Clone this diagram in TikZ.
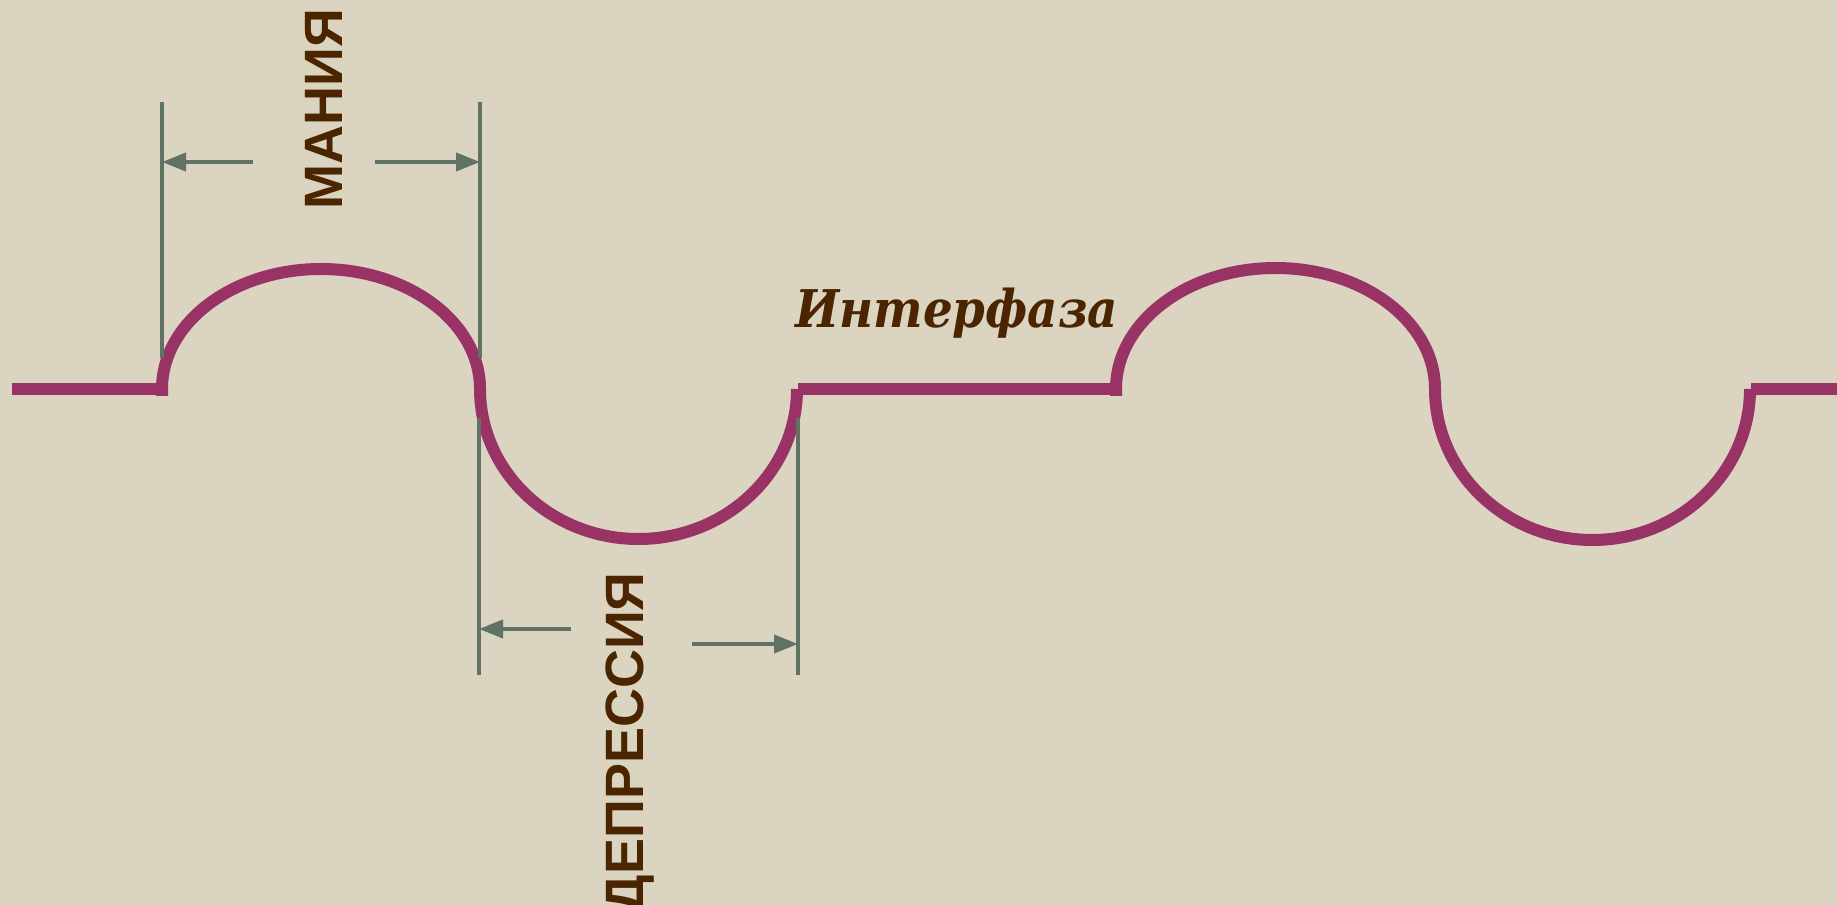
\documentclass[tikz,border=0pt]{standalone}
\usepackage{fontspec}
\setmainfont{Liberation Serif}
\setsansfont{Liberation Sans}
\newfontfamily\fonteinter{DejaVu Serif Condensed}
\usetikzlibrary{arrows.meta}
\definecolor{fond}{HTML}{DBD4C0}
\definecolor{courbe}{HTML}{993366}
\definecolor{cote}{HTML}{5F7263}
\definecolor{brun}{HTML}{4A2500}

\begin{document}
\begin{tikzpicture}[x=1pt,y=1pt,
        courbe/.style={line width=12pt, draw=courbe},
        cote/.style={line width=4pt, draw=cote},
        fleche/.style={cote, -{Triangle[length=24pt,width=18pt]}},
        phase/.style={text=brun, inner sep=0pt, rotate=90,
            font=\sffamily\bfseries\fontsize{54}{54}\selectfont}]
        % Fond
        \fill[fond] (0,0) rectangle (1837,905);
        \useasboundingbox (0,0) rectangle (1837,905);
        % Courbe de l'humeur
        \draw[courbe] (12,516) -- (162,516);
        \draw[courbe] (162,509) -- (162,516) arc[start angle=180, end angle=0, x radius=159, y radius=120];
        \draw[courbe] (480,516) arc[start angle=180, end angle=360, x radius=158.5, y radius=150];
        \draw[courbe] (798,516) -- (1116,516);
        \draw[courbe] (1116,509) -- (1116,516) arc[start angle=180, end angle=0, x radius=159.5, y radius=121];
        \draw[courbe] (1435,516) arc[start angle=180, end angle=360, x radius=157.5, y radius=151];
        \draw[courbe] (1751,516) -- (1837,516);
        % Cotes de la manie
        \coordinate (maniaG) at (162,803);
        \coordinate (maniaD) at (480,803);
        \draw[cote] (maniaG) -- (162,547);
        \draw[cote] (maniaD) -- (480,547);
        \coordinate (flecheMG) at (253,743);
        \coordinate (flecheMD) at (375,743);
        \draw[fleche] (flecheMG) -- (flecheMG -| maniaG);
        \draw[fleche] (flecheMD) -- (flecheMD -| maniaD);
        % Cotes de la depression
        \coordinate (deprG) at (479,487);
        \coordinate (deprD) at (798,487);
        \draw[cote] (deprG) -- (479,230);
        \draw[cote] (deprD) -- (798,230);
        \coordinate (flecheDG) at (571,276);
        \coordinate (flecheDD) at (692,261);
        \draw[fleche] (flecheDG) -- (flecheDG -| deprG);
        \draw[fleche] (flecheDD) -- (flecheDD -| deprD);
        % Textes
        \node[phase, anchor=base] (mania) at (342,796) {МАНИЯ};
        \node[phase, anchor=base east] (depression) at (643,333) {ДЕПРЕССИЯ};
        \node[text=brun, inner sep=0pt, anchor=base west,
            font=\fonteinter\bfseries\itshape\fontsize{52}{52}\selectfont] (interphase) at (795,577) {Интерфаза};
    \end{tikzpicture}
\end{document}
